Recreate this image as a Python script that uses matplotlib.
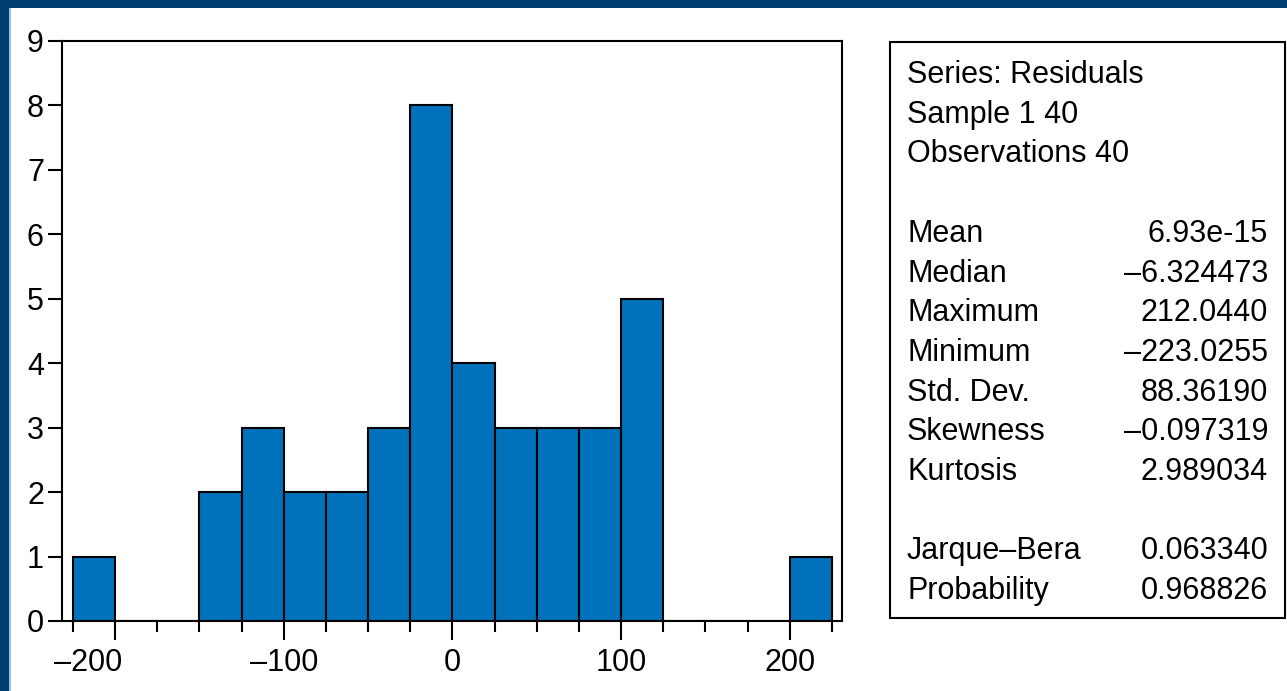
import matplotlib
matplotlib.use("Agg")
import matplotlib.pyplot as plt
from matplotlib.patches import Rectangle
from matplotlib.ticker import MultipleLocator
from matplotlib.transforms import ScaledTranslation

plt.rcParams['font.family'] = ['Liberation Sans', 'DejaVu Sans']

# ---- data ----
bin_starts = [-225, -200, -175, -150, -125, -100, -75, -50, -25,
              0, 25, 50, 75, 100, 125, 150, 175, 200]
bin_width = 25
counts = [1, 0, 0, 2, 3, 2, 2, 3, 8, 4, 3, 3, 3, 5, 0, 0, 0, 1]

x_ticks = [-200, -100, 0, 100, 200]
x_ticklabels = ['\u2013200', '\u2013100', '0', '100', '200']
y_ticks = [0, 1, 2, 3, 4, 5, 6, 7, 8, 9]

header_lines = ["Series: Residuals", "Sample 1 40", "Observations 40"]
stat_names = ["Mean", "Median", "Maximum", "Minimum", "Std. Dev.", "Skewness", "Kurtosis"]
stat_values = ["6.93e-15", "\u20136.324473", "212.0440", "\u2013223.0255", "88.36190",
               "\u20130.097319", "2.989034"]
test_names = ["Jarque\u2013Bera", "Probability"]
test_values = ["0.063340", "0.968826"]

# ---- figure ----
W, H = 1287, 691
fig = plt.figure(figsize=(W / 100, H / 100), dpi=100)
fig.patch.set_facecolor('white')

# decorative border (top and left)
border = '#003F6F'
fig.patches.append(Rectangle((0, 1 - 8 / H), 1, 8 / H, transform=fig.transFigure,
                             facecolor=border, edgecolor='none', zorder=0))
fig.patches.append(Rectangle((0, 0), 9 / W, 1, transform=fig.transFigure,
                             facecolor=border, edgecolor='none', zorder=0))
fig.patches.append(Rectangle((9 / W, 0), 1.5 / W, 1 - 8 / H, transform=fig.transFigure,
                             facecolor='#9CC3E4', edgecolor='none', zorder=0))

ax = fig.add_axes([62 / W, 1 - 621 / H, (842 - 62) / W, (621 - 41) / H])
ax.bar(bin_starts, counts, width=bin_width, align='edge', color='#0072BC',
       edgecolor='black', linewidth=1.5, zorder=2)
ax.set_xlim(-231.5, 231)
ax.set_ylim(0, 9)
ax.set_xticks(x_ticks)
ax.set_xticklabels(x_ticklabels)
ax.xaxis.set_minor_locator(MultipleLocator(25))
ax.set_yticks(y_ticks)
for s in ax.spines.values():
    s.set_linewidth(1.5)
ax.tick_params(axis='x', which='major', direction='out', length=13.5, width=1.5,
               pad=6, labelsize=22)
ax.tick_params(axis='x', which='minor', direction='out', length=8, width=1.5)
ax.tick_params(axis='y', which='major', direction='out', length=10, width=1.5,
               pad=3, labelsize=22)

# the leftmost x label sits a little left of its tick in the reference
first = ax.get_xticklabels()[0]
first.set_transform(first.get_transform() +
                    ScaledTranslation(-27 / 100, 0, fig.dpi_scale_trans))

# stats box
bx0, by0, bx1, by1 = 890, 42, 1285, 618
fig.patches.append(Rectangle((bx0 / W, 1 - by1 / H), (bx1 - bx0) / W, (by1 - by0) / H,
                             transform=fig.transFigure, facecolor='white',
                             edgecolor='black', linewidth=1.5, zorder=1))

rows = [(t, None) for t in header_lines] + [(None, None)] + \
       list(zip(stat_names, stat_values)) + [(None, None)] + \
       list(zip(test_names, test_values))
y0, dy = 75, 39.7
for i, (name, val) in enumerate(rows):
    yy = 1 - (y0 + dy * i) / H
    if name is not None:
        fig.text(907 / W, yy, name, ha='left', va='center', fontsize=22, zorder=3)
    if val is not None:
        fig.text(1268 / W, yy, val, ha='right', va='center', fontsize=22, zorder=3)

fig.savefig('out.png', dpi=100, facecolor='white')
